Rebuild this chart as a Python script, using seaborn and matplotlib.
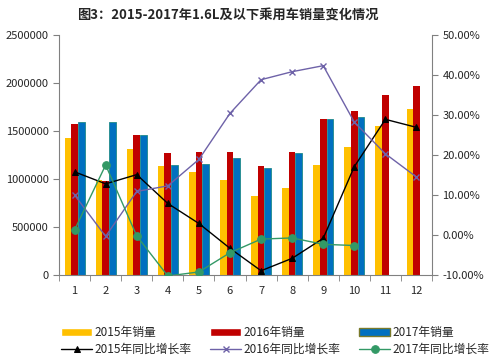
import numpy as np
import pandas as pd
import matplotlib
matplotlib.use("Agg")
import matplotlib.pyplot as plt
import seaborn as sns
from matplotlib.ticker import FuncFormatter, FixedLocator

sns.set_style("white")
plt.rcParams['font.family'] = ['Noto Sans CJK SC', 'DejaVu Sans']
plt.rcParams['axes.unicode_minus'] = False

# data
months = ["1", "2", "3", "4", "5", "6", "7", "8", "9", "10", "11", "12"]
sales_2015 = [1430000, 990000, 1316000, 1139000, 1073000, 990000, 826000, 910000, 1149000, 1337000, 1555000, 1729000]
sales_2016 = [1576000, 983000, 1462000, 1274000, 1281000, 1281000, 1135000, 1281000, 1625000, 1712000, 1875000, 1969000]
sales_2017 = [1597000, 1597000, 1462000, 1149000, 1156000, 1222000, 1118000, 1271000, 1625000, 1646000, np.nan, np.nan]
growth_2015 = [15.8, 12.8, 15.1, 7.9, 2.9, -3.3, -8.9, -5.8, -0.8, 17.1, 28.9, 26.9]
growth_2016 = [10.0, -0.3, 10.9, 12.3, 18.9, 30.4, 38.8, 40.8, 42.3, 28.2, 20.3, 14.5]
growth_2017 = [1.3, 17.5, -0.2, -10.2, -9.2, -4.4, -1.0, -0.7, -2.3, -2.6]

bar_names = ["2015年销量", "2016年销量", "2017年销量"]
line_names = ["2015年同比增长率", "2016年同比增长率", "2017年同比增长率"]
bar_colors = ["#FFC000", "#C00000", "#0070C0"]

df = pd.DataFrame({
    "month": months * 3,
    "series": [bar_names[0]] * 12 + [bar_names[1]] * 12 + [bar_names[2]] * 12,
    "value": sales_2015 + sales_2016 + sales_2017,
})

fig = plt.figure(figsize=(4.96, 3.63), dpi=100)
ax = fig.add_axes([0.119, 0.242, 0.752, 0.662])

sns.barplot(data=df, x="month", y="value", hue="series", order=months,
            hue_order=bar_names, palette=bar_colors, width=0.64,
            saturation=1, linewidth=0, ax=ax, legend=False)
# teal outline on the 2017 bars
for p in ax.containers[2]:
    p.set_edgecolor("#1F8A8A")
    p.set_linewidth(0.6)

ax.set_xlim(-0.5, 11.5)
ax.set_ylim(0, 2500000)
ax.set_yticks(np.arange(0, 2500001, 500000))
ax.yaxis.set_major_formatter(FuncFormatter(lambda v, p: f"{int(v)}"))
ax.set_xlabel("")
ax.set_ylabel("")
ax.xaxis.set_minor_locator(FixedLocator(np.arange(-0.5, 12, 1)))
ax.tick_params(axis="x", which="major", length=0, labelsize=8, pad=8)
ax.tick_params(axis="x", which="minor", length=4, color="#808080", direction="out", bottom=True)
ax.tick_params(axis="y", length=4, color="#808080", direction="out", left=True, labelsize=8)
for s in ["top", "right"]:
    ax.spines[s].set_visible(False)
for s in ["left", "bottom"]:
    ax.spines[s].set_color("#808080")

ax2 = ax.twinx()
x = np.arange(12)
sns.lineplot(x=x, y=growth_2015, color="black", marker="^", markersize=5,
             linewidth=1, markeredgecolor="black", ax=ax2)
sns.lineplot(x=x, y=growth_2016, color="#6E62A8", marker="x", markersize=4,
             linewidth=1, markeredgewidth=1, markeredgecolor="#6E62A8", ax=ax2)
sns.lineplot(x=x[:len(growth_2017)], y=growth_2017, color="#339966", marker="o", markersize=5.5,
             linewidth=1, markeredgecolor="#339966", ax=ax2)
ax2.set_ylim(-10, 50)
ax2.set_yticks(np.arange(-10, 51, 10))
ax2.yaxis.set_major_formatter(FuncFormatter(lambda v, p: f"{v:.2f}%"))
ax2.tick_params(axis="y", length=4, color="#808080", direction="out", right=True, labelsize=8)
for s in ["top", "left", "bottom"]:
    ax2.spines[s].set_visible(False)
ax2.spines["right"].set_color("#808080")
ax2.set_xlim(-0.5, 11.5)

fig.suptitle("图3：2015-2017年1.6L及以下乘用车销量变化情况", x=0.46, y=0.975,
             fontsize=9.5, fontweight="bold")

# legend: bars on first row, lines on second row
bar_handles = [plt.Rectangle((0, 0), 1, 1, facecolor=c) for c in bar_colors]
bar_handles[2].set_edgecolor("#7A7A2A")
line_handles = ax2.get_lines()[:3]
handles = []
labels = []
for i in range(3):
    handles += [bar_handles[i], line_handles[i]]
    labels += [bar_names[i], line_names[i]]
fig.legend(handles, labels, ncol=3, loc="lower center", bbox_to_anchor=(0.555, -0.01),
           frameon=False, fontsize=8.5, handlelength=2.6, handleheight=0.7,
           columnspacing=1.6, handletextpad=0.2, labelspacing=0.35)

fig.savefig("out.png", dpi=100)
